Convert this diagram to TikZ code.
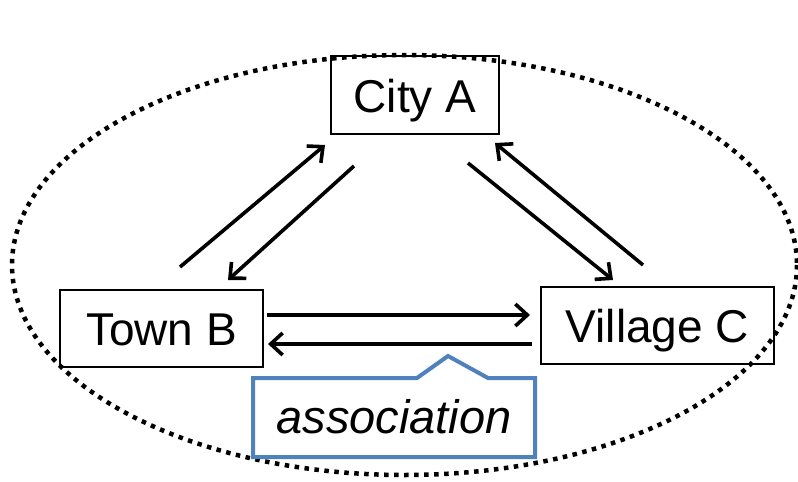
\documentclass[tikz,border=0pt]{standalone}
\usepackage{fontspec}
\setmainfont{Liberation Sans}
\usetikzlibrary{arrows.meta}
\definecolor{callblue}{HTML}{4F81BD}
\tikzset{
  place/.style={draw=black, line width=2pt, rectangle, inner sep=0pt, text height=34pt, text depth=0pt, font=\fontsize{46}{50}\selectfont},
  link/.style={line width=3.6pt, -{Straight Barb[length=12pt,width=22pt,line width=3.6pt]}},
  boundary/.style={line width=4.5pt, dash pattern=on 4.5pt off 5.5pt},
  callout/.style={draw=callblue, line width=4pt, line join=miter},
}
\begin{document}
\begin{tikzpicture}[x=1pt,y=-1pt]
\useasboundingbox (0,0) rectangle (798,482);
\draw[boundary] (404.5,265) ellipse [x radius=392.5, y radius=210];

\node[place, minimum width=168pt, minimum height=78pt] (A) at (415,95) {City A};
\node[place, minimum width=203pt, minimum height=77pt] (B) at (161.5,328.5) {Town B};
\node[place, minimum width=233pt, minimum height=77pt] (C) at (657.5,325.5) {Village C};

\coordinate (ba1) at (180,267); \coordinate (ba2) at (325,145);
\coordinate (ab1) at (354,166); \coordinate (ab2) at (228,280);
\coordinate (ac1) at (468,163); \coordinate (ac2) at (613,280);
\coordinate (ca1) at (643,265); \coordinate (ca2) at (495,143);
\coordinate (bc1) at (267,315); \coordinate (bc2) at (530,315);
\coordinate (cb1) at (532,344); \coordinate (cb2) at (268,344);

\draw[link] (ba1) -- (ba2);
\draw[link] (ab1) -- (ab2);
\draw[link] (ac1) -- (ac2);
\draw[link] (ca1) -- (ca2);
\draw[link] (bc1) -- (bc2);
\draw[link] (cb1) -- (cb2);

\draw[callout] (253,378) -- (417,378) -- (448,356) -- (488,378) -- (535,378) -- (535,457) -- (253,457) -- cycle;
\node[font=\fontsize{47}{50}\selectfont\itshape, inner sep=0pt, anchor=base] (assoc) at (394,433) {association};
\end{tikzpicture}
\end{document}
